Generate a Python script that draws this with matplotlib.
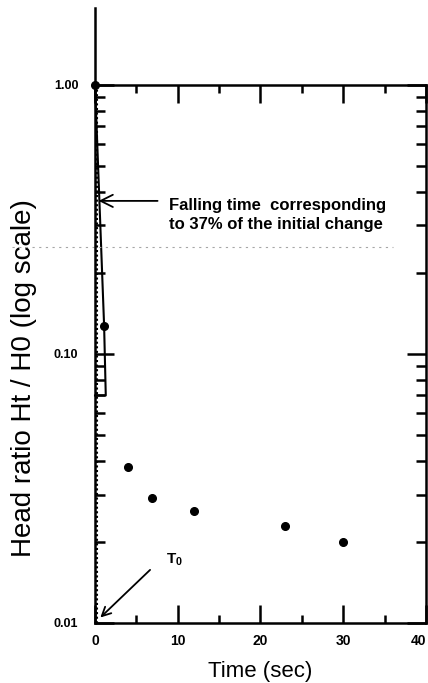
import numpy as np
import matplotlib
matplotlib.use("Agg")
import matplotlib.pyplot as plt
from matplotlib.ticker import LogLocator, NullFormatter

plt.rcParams["font.family"] = ["Liberation Sans", "DejaVu Sans"]

# measured head ratios
time_s = [0.0, 1.1, 4.0, 6.9, 12.0, 23.0, 30.0]
head_ratio = [1.0, 0.127, 0.038, 0.029, 0.026, 0.023, 0.020]

# straight-line fit drawn by hand through the first points
fit_t = [0.0, 1.1, 1.3, 0.0]
fit_h = [1.0, 0.127, 0.07, 0.07]

x_ticks = [0, 10, 20, 30, 40]
x_labels = ["0", "10", "20", "30", "40"]
y_ticks = [0.01, 0.1, 1.0]
y_labels = ["0.01", "0.10", "1.00"]

fig = plt.figure(figsize=(4.28, 6.83), dpi=100)
ax = fig.add_axes([0.222, 0.088, 0.773, 0.788])

ax.set_yscale("log")
ax.set_xlim(0, 40)
ax.set_ylim(0.01, 1.0)

ax.plot(time_s, head_ratio, "o", color="black", ms=5.5, clip_on=False, zorder=5)
ax.plot(fit_t, fit_h, color="black", lw=1.5, clip_on=False)
ax.plot([0.25, 0.25], [1.0, 0.01], color="black", lw=1.5, ls=(0, (1, 1.2)), clip_on=False)

# faint scan line
ax.plot([-0.25, 0.9], [0.25, 0.25], color="0.65", lw=0.8, ls=(0, (2, 4)),
        transform=ax.get_yaxis_transform(), clip_on=False)

# y axis runs above the frame
ax.plot([0, 0], [1.0, 1.143], color="black", lw=1.8,
        transform=ax.transAxes, clip_on=False)

ax.set_xticks(x_ticks)
ax.set_xticklabels(x_labels, fontsize=10, fontweight="bold")
ax.get_xticklabels()[-1].set_ha("right")
ax.set_xticks([5, 15, 25, 35], minor=True)
ax.set_yticks(y_ticks)
ax.set_yticklabels(y_labels, fontsize=9, fontweight="bold")
ax.yaxis.set_minor_locator(LogLocator(base=10, subs=np.arange(2, 10)))
ax.yaxis.set_minor_formatter(NullFormatter())

for side in ("top", "bottom", "left", "right"):
    ax.spines[side].set_linewidth(1.8)

ax.tick_params(axis="x", which="major", direction="in", length=13, width=1.8,
               top=True, pad=8)
ax.tick_params(axis="x", which="minor", direction="in", length=6, width=1.8, top=True)
ax.tick_params(axis="y", which="major", direction="in", length=14, width=1.8,
               right=True, pad=12)
ax.tick_params(axis="y", which="minor", direction="in", length=7, width=1.8, right=True)

ax.set_xlabel("Time (sec)", fontsize=16, labelpad=9)
ax.set_ylabel("Head ratio Ht / H0 (log scale)", fontsize=20)
ax.yaxis.set_label_coords(-0.175, 0.455)

ax.annotate("", xy=(0.1, 0.37), xytext=(7.9, 0.37),
            arrowprops=dict(arrowstyle="->", color="black", lw=1.3,
                            mutation_scale=22))
ax.text(8.9, 0.378, "Falling time  corresponding\nto 37% of the initial change",
        fontsize=12, fontweight="bold", va="top", ha="left", linespacing=1.3)

ax.annotate("", xy=(0.4, 0.0103), xytext=(6.9, 0.016),
            arrowprops=dict(arrowstyle="->", color="black", lw=1.3,
                            mutation_scale=16))
ax.text(8.6, 0.0172, "T$_\\mathregular{0}$", fontsize=11, fontweight="bold",
        ha="left", va="center")

fig.savefig("out.png", dpi=100)
